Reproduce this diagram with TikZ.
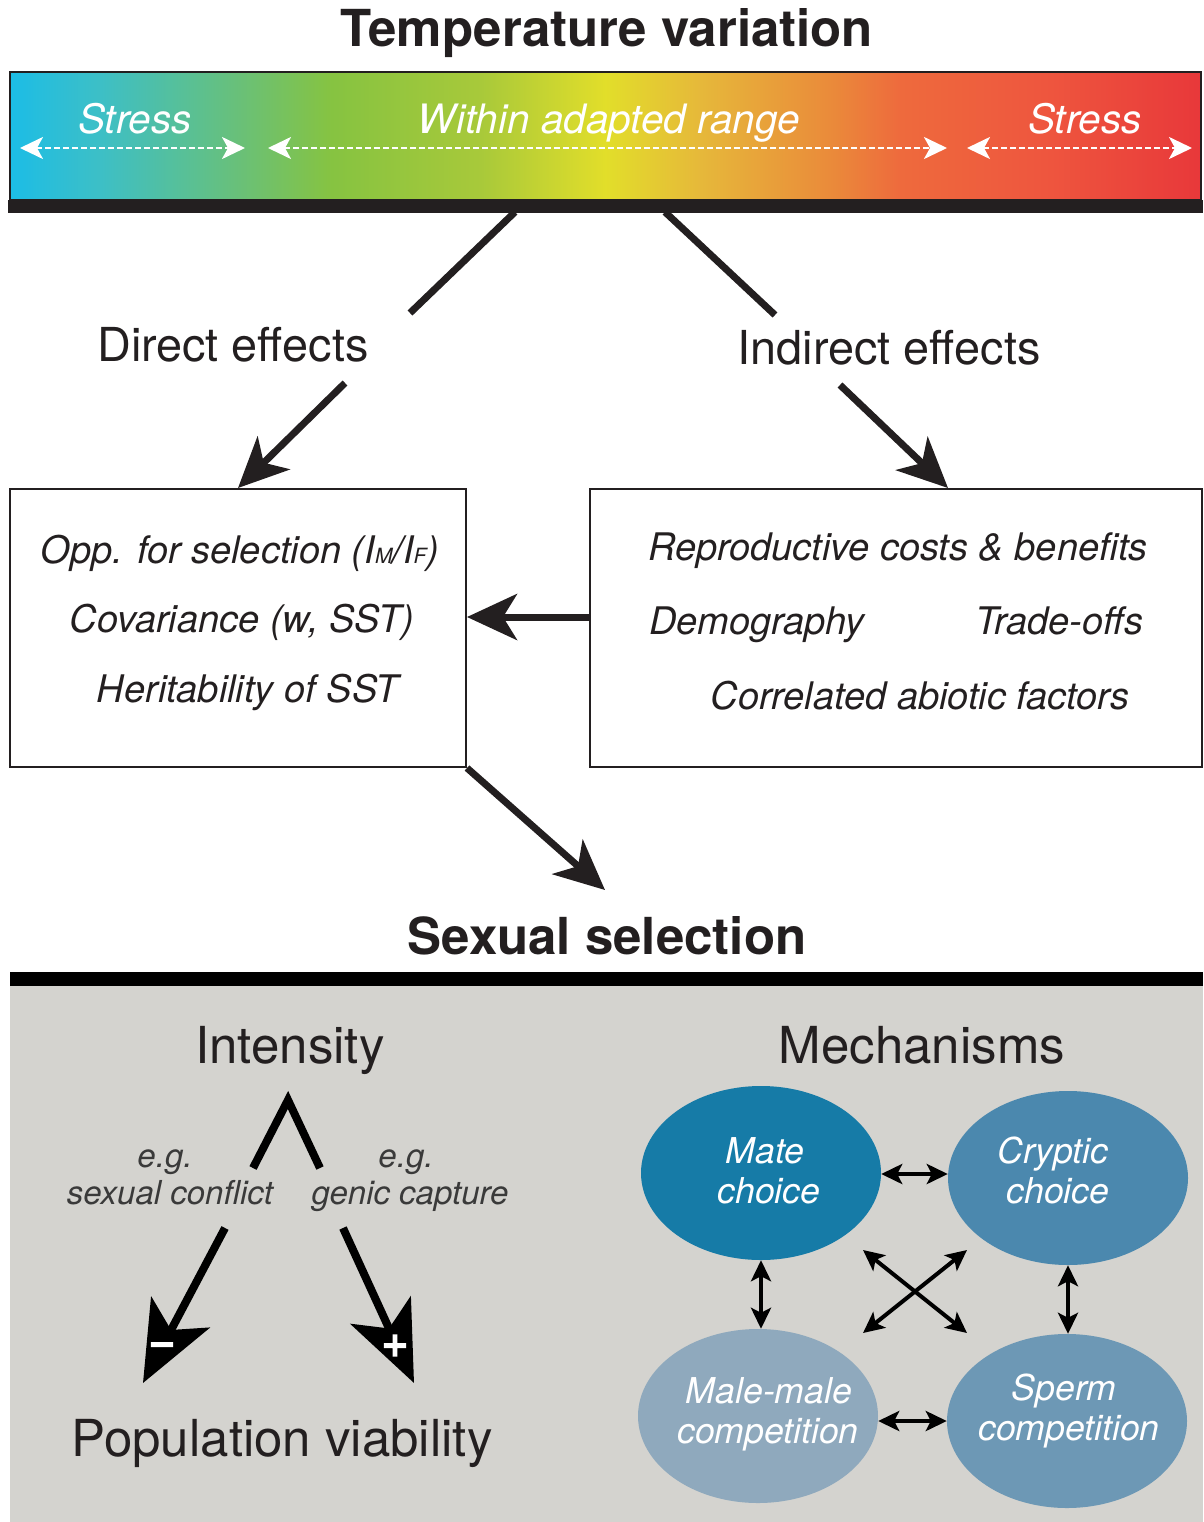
\documentclass[tikz,border=0pt]{standalone}
\usepackage{fontspec}
\setmainfont{TeX Gyre Heros}
\newfontfamily\signfont[FakeBold=4]{TeX Gyre Heros}
\usetikzlibrary{arrows.meta,shapes.geometric}
\definecolor{ink}{HTML}{231F20}
\definecolor{panel}{HTML}{D4D3CF}
\definecolor{egc}{HTML}{3A3A3A}
\definecolor{cmate}{HTML}{167BA7}
\definecolor{ccrypt}{HTML}{4B88AE}
\definecolor{cmale}{HTML}{8FA9BD}
\definecolor{csperm}{HTML}{6D98B5}
\definecolor{g0}{HTML}{1CBDE6}
\definecolor{g1}{HTML}{3DBFC6}
\definecolor{g2}{HTML}{66C07E}
\definecolor{g3}{HTML}{86C341}
\definecolor{g4}{HTML}{A8C93A}
\definecolor{g5}{HTML}{E2DE2A}
\definecolor{g6}{HTML}{E6B83A}
\definecolor{g7}{HTML}{EA8A3A}
\definecolor{g8}{HTML}{EE6A3D}
\definecolor{g9}{HTML}{EE553E}
\definecolor{g10}{HTML}{E8383A}
\pgfdeclarehorizontalshading{tempgrad}{100bp}{color(0bp)=(g0); color(25bp)=(g0); color(28.8bp)=(g1); color(34.2bp)=(g2); color(38.5bp)=(g3); color(44.75bp)=(g4); color(50bp)=(g5); color(54bp)=(g6); color(59.5bp)=(g7); color(62.4bp)=(g8); color(68.7bp)=(g9); color(75bp)=(g10); color(100bp)=(g10)}
\tikzset{
  titletxt/.style={font=\fontsize{51}{58}\selectfont\bfseries, text=ink, anchor=base, inner sep=0pt},
  lbltxt/.style={font=\fontsize{46.8}{54}\selectfont, text=ink, anchor=base, inner sep=0pt},
  bigtxt/.style={font=\fontsize{51}{58}\selectfont, text=ink, anchor=base, inner sep=0pt},
  boxtxt/.style={font=\fontsize{38}{44}\selectfont\itshape, text=ink, anchor=base, inner sep=0pt},
  bartxt/.style={font=\fontsize{40.5}{46}\selectfont\itshape, text=white, anchor=base, inner sep=0pt},
  egtxt/.style={font=\fontsize{33}{38}\selectfont\itshape, text=egc, anchor=base, inner sep=0pt},
  elltxt/.style={font=\fontsize{35.6}{42}\selectfont\itshape, text=white, anchor=base, inner sep=0pt},
  signtxt/.style={font=\fontsize{46}{46}\selectfont\signfont, text=white, anchor=base, inner sep=0pt},
  framebox/.style={draw=ink, line width=2pt, rectangle, inner sep=0pt},
  mech/.style={ellipse, minimum width=240pt, minimum height=174pt, inner sep=0pt},
  wdash/.style={draw=white, line width=2.5pt, dash pattern=on 6pt off 3pt,
     arrows={Stealth[length=23pt,width=22pt,inset=6pt]-Stealth[length=23pt,width=22pt,inset=6pt]}},
  bigline/.style={draw=ink, line width=7pt},
  bigarrow/.style={draw=ink, line width=7pt, -{Stealth[length=50pt,width=46pt,inset=14pt]}},
  fatarrow/.style={draw=black, line width=8pt, -{Stealth[length=80pt,width=66pt,inset=20pt]}},
  smallarrow/.style={draw=black, line width=4pt, {Stealth[length=21pt,width=20pt,inset=5pt]}-{Stealth[length=21pt,width=20pt,inset=5pt]}},
}
\begin{document}
\begin{tikzpicture}[x=1pt,y=-1pt]
\useasboundingbox (0,0) rectangle (1203,1522);
% ---------- top bar ----------
\node[titletxt] (ttl) at (607,47) {Temperature variation};
\path[shading=tempgrad, draw=ink, line width=2pt] (10,72) rectangle (1201,200);
\fill[ink] (8,200) rectangle (1203,213);
\node[bartxt] (s1) at (135,134) {Stress};
\node[bartxt] (wr) at (609,134) {Within adapted range};
\node[bartxt] (s2) at (1085,134) {Stress};
\coordinate (a1) at (20,148); \coordinate (a2) at (245,148);
\coordinate (b1) at (268,148); \coordinate (b2) at (947,148);
\coordinate (c1) at (967,148); \coordinate (c2) at (1192,148);
\draw[wdash] (a1) -- (a2);
\draw[wdash] (b1) -- (b2);
\draw[wdash] (c1) -- (c2);
% ---------- effects ----------
\node[lbltxt] (dir) at (233,361) {Direct effects};
\node[lbltxt] (ind) at (889,364) {Indirect effects};
\node[framebox, minimum width=456pt, minimum height=278pt] (lb) at (238,628) {};
\node[framebox, minimum width=612pt, minimum height=278pt] (rb) at (896,628) {};
\coordinate (d0) at (515,212); \coordinate (d1) at (410,313);
\coordinate (d2) at (345,383);
\coordinate (i0) at (665,212); \coordinate (i1) at (775,315);
\coordinate (i2) at (840,385); \coordinate (i3) at (948,488);
\draw[bigline] (d0) -- (d1);
\draw[bigarrow] (d2) -- (lb.north);
\draw[bigline] (i0) -- (i1);
\draw[bigarrow] (i2) -- (i3);
\node[boxtxt] (t1) at (240,563) {Opp. for selection (I{\fontsize{21}{21}\selectfont M}/I{\fontsize{21}{21}\selectfont F})};
\node[boxtxt] (t2) at (242,632) {Covariance (w, SST)};
\node[boxtxt] (t3) at (248,702) {Heritability of SST};
\node[boxtxt] (r1) at (898,560) {Reproductive costs \& benefits};
\node[boxtxt] (r2) at (757,634) {Demography};
\node[boxtxt] (r3) at (1059,634) {Trade-offs};
\node[boxtxt] (r4) at (920,709) {Correlated abiotic factors};
\coordinate (mid) at (0,617);
\draw[bigarrow] (rb.west |- mid) -- (lb.east |- mid);
\coordinate (sstip) at (605,890);
\draw[bigarrow] (lb.south east) -- (sstip);
% ---------- sexual selection ----------
\node[titletxt] (ss) at (607,954) {Sexual selection};
\fill[black] (10,972) rectangle (1203,986);
\fill[panel] (10,986) rectangle (1203,1522);
\node[bigtxt] (int) at (290,1063) {Intensity};
\node[bigtxt] (mec) at (922,1063) {Mechanisms};
\coordinate (lamL) at (253,1168); \coordinate (lamT) at (288,1100); \coordinate (lamR) at (320,1168);
\draw[black, line width=8pt, miter limit=10] (lamL) -- (lamT) -- (lamR);
\node[egtxt] (eg1) at (165,1167) {e.g.};
\node[egtxt] (sc) at (170,1204) {sexual conflict};
\node[egtxt] (eg2) at (406,1167) {e.g.};
\node[egtxt] (gc) at (410,1204) {genic capture};
\coordinate (m0) at (225,1228); \coordinate (m1) at (143,1383);
\coordinate (p0) at (343,1228); \coordinate (p1) at (414,1383);
\draw[fatarrow] (m0) -- (m1);
\draw[fatarrow] (p0) -- (p1);
\node[signtxt] (minus) at (162,1356) {−};
\node[signtxt] (plus) at (395,1357) {+};
\node[bigtxt] (pv) at (282,1456) {Population viability};
% ---------- mechanisms ----------
\node[mech, fill=cmate] (mate) at (761,1173) {};
\node[mech, fill=ccrypt] (crypt) at (1068,1178) {};
\node[mech, fill=cmale] (male) at (758,1416) {};
\node[mech, fill=csperm] (sperm) at (1067,1421) {};
\node[elltxt] (mt1) at (765,1163) {Mate};
\node[elltxt] (mt2) at (769,1203) {choice};
\node[elltxt] (cr1) at (1053,1163) {Cryptic};
\node[elltxt] (cr2) at (1058,1203) {choice};
\node[elltxt] (ml1) at (769,1403) {Male-male};
\node[elltxt] (ml2) at (768,1443) {competition};
\node[elltxt] (sp1) at (1064,1400) {Sperm};
\node[elltxt] (sp2) at (1069,1440) {competition};
\draw[smallarrow] (mate.east |- 0,1174) -- (crypt.west |- 0,1174);
\draw[smallarrow] (male.east |- 0,1421) -- (sperm.west |- 0,1421);
\draw[smallarrow] (mate.south -| 761,0) -- (male.north -| 761,0);
\draw[smallarrow] (crypt.south -| 1068,0) -- (sperm.north -| 1068,0);
\coordinate (x1) at (863,1250); \coordinate (x2) at (967,1333);
\coordinate (x3) at (967,1250); \coordinate (x4) at (863,1333);
\draw[smallarrow] (x1) -- (x2);
\draw[smallarrow] (x3) -- (x4);
\end{tikzpicture}
\end{document}
